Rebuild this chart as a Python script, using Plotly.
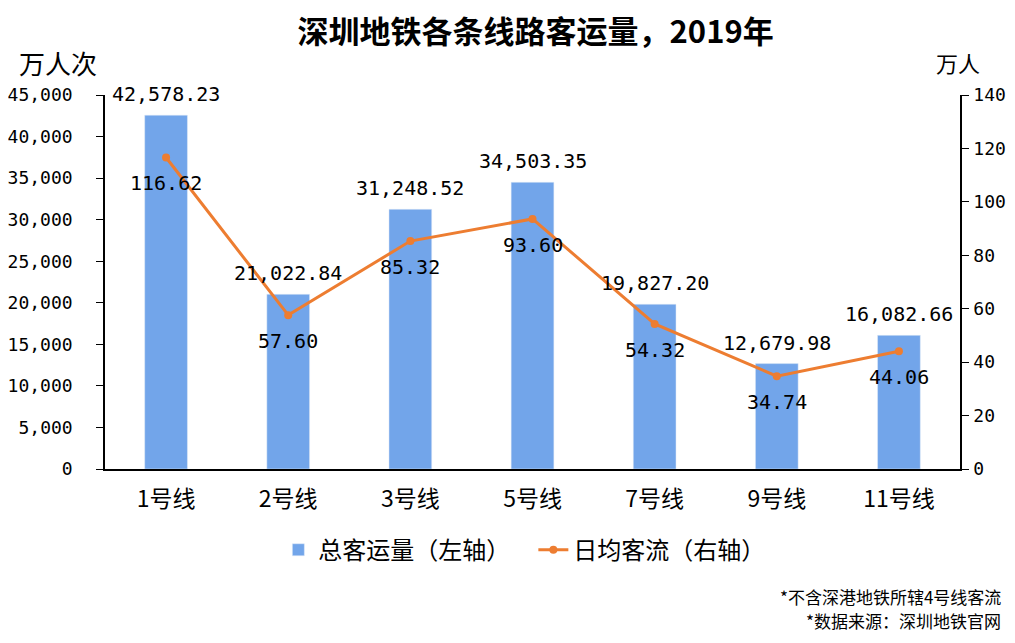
import plotly.graph_objects as go

categories = ["1号线", "2号线", "3号线", "5号线", "7号线", "9号线", "11号线"]
total_volume = [42578.23, 21022.84, 31248.52, 34503.35, 19827.20, 12679.98, 16082.66]
daily_avg = [116.62, 57.60, 85.32, 93.60, 54.32, 34.74, 44.06]
left_ticks = list(range(0, 45001, 5000))
right_ticks = list(range(0, 141, 20))

CJK = "Noto Sans CJK SC"
NUM = "DejaVu Sans Mono"

fig = go.Figure()
fig.add_trace(go.Bar(
    x=categories, y=total_volume, name="总客运量（左轴）",
    marker=dict(color="#72A5EA"), width=0.35,
))
fig.add_trace(go.Scatter(
    x=categories, y=daily_avg, name="日均客流（右轴）", yaxis="y2",
    mode="lines+markers",
    line=dict(color="#ED7D31", width=3), marker=dict(color="#ED7D31", size=8),
    cliponaxis=False,
))

for c, v in zip(categories, total_volume):
    fig.add_annotation(x=c, y=v, xref="x", yref="y", text=f"{v:,.2f}", showarrow=False,
                       yanchor="middle", yshift=21, font=dict(family=NUM, size=20, color="black"))
for c, v in zip(categories, daily_avg):
    fig.add_annotation(x=c, y=v, xref="x", yref="y2", text=f"{v:.2f}", showarrow=False,
                       yanchor="middle", yshift=-26, font=dict(family=NUM, size=20, color="black"))

fig.update_layout(
    width=1007, height=635,
    margin=dict(l=97, r=55, t=87, b=174),
    plot_bgcolor="white", paper_bgcolor="white",
    title=dict(text="<b>深圳地铁各条线路客运量，2019年</b>", x=0.524, xanchor="center", y=0.962, yanchor="middle",
               font=dict(family=CJK, size=31, color="black")),
    xaxis=dict(showline=True, linecolor="black", linewidth=1.5, ticks="", showgrid=False, automargin=False,
               ticklabelstandoff=9, tickfont=dict(family=CJK, size=23, color="black")),
    yaxis=dict(range=[0, 45000], tickvals=left_ticks, tickformat=",", showgrid=False, automargin=False,
               showline=True, linecolor="black", linewidth=1.5, ticks="outside", ticklen=7,
               tickcolor="black", ticklabelstandoff=20,
               tickfont=dict(family=NUM, size=18, color="black"), zeroline=False),
    yaxis2=dict(range=[0, 140], tickvals=right_ticks, overlaying="y", side="right", showgrid=False,
                automargin=False,
                showline=True, linecolor="black", linewidth=1.5, ticks="outside", ticklen=7,
                tickcolor="black", ticklabelstandoff=1,
                tickfont=dict(family=NUM, size=18, color="black"), zeroline=False),
    legend=dict(orientation="h", x=0.501, xanchor="center", y=-0.217, yanchor="middle",
                entrywidth=210, entrywidthmode="pixels",
                font=dict(family=CJK, size=24, color="black"), traceorder="normal"),
)

fig.add_annotation(text="万人次", xref="paper", yref="paper", x=-0.055, y=1.088, xanchor="center", yanchor="middle",
                   showarrow=False, font=dict(family=CJK, size=26, color="black"))
fig.add_annotation(text="万人", xref="paper", yref="paper", x=0.998, y=1.088, xanchor="center", yanchor="middle",
                   showarrow=False, font=dict(family=CJK, size=22, color="black"))
fig.add_annotation(text="*不含深港地铁所辖4号线客流", xref="paper", yref="paper",
                   x=1.05, y=-0.342, xanchor="right", yanchor="middle", showarrow=False,
                   font=dict(family=CJK, size=17, color="black"))
fig.add_annotation(text="*数据来源：深圳地铁官网", xref="paper", yref="paper",
                   x=1.05, y=-0.406, xanchor="right", yanchor="middle", showarrow=False,
                   font=dict(family=CJK, size=17, color="black"))

fig.write_html("out.html")
